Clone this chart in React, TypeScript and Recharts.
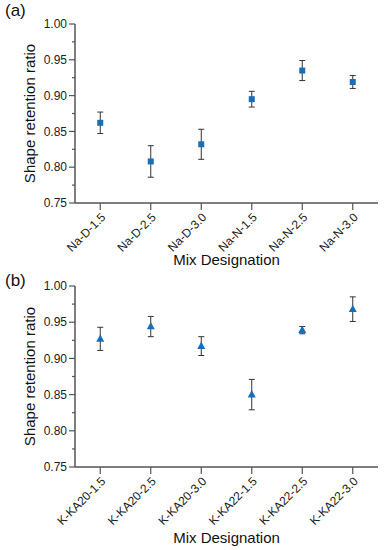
import React from 'react';
import { ComposedChart, Scatter, XAxis, YAxis, ErrorBar } from 'recharts';

const categoriesA = ['Na-D-1.5', 'Na-D-2.5', 'Na-D-3.0', 'Na-N-1.5', 'Na-N-2.5', 'Na-N-3.0'];
const valuesA = [0.862, 0.808, 0.832, 0.895, 0.935, 0.919];
const errorsA = [0.015, 0.022, 0.021, 0.011, 0.014, 0.009];

const categoriesB = ['K-KA20-1.5', 'K-KA20-2.5', 'K-KA20-3.0', 'K-KA22-1.5', 'K-KA22-2.5', 'K-KA22-3.0'];
const valuesB = [0.927, 0.944, 0.917, 0.85, 0.939, 0.968];
const errorsB = [0.016, 0.014, 0.013, 0.021, 0.005, 0.017];

const yTicks = [0.75, 0.775, 0.8, 0.825, 0.85, 0.875, 0.9, 0.925, 0.95, 0.975, 1.0];
const xTicks = [0, 1, 2, 3, 4, 5];

const FONT = '"Liberation Sans", Arial, Helvetica, sans-serif';
const AXIS = '#555';
const BLUE = '#1a6db6';

const dataA = categoriesA.map((c, i) => ({ idx: i, name: c, v: valuesA[i], err: errorsA[i] }));
const dataB = categoriesB.map((c, i) => ({ idx: i, name: c, v: valuesB[i], err: errorsB[i] }));

const YTick = (props: any) => {
  const { x, y, payload } = props;
  const v = payload.value;
  const major = Math.abs(v * 20 - Math.round(v * 20)) < 1e-6;
  return (
    <g>
      <line x1={x - (major ? 6 : 3)} y1={y} x2={x} y2={y} stroke={AXIS} strokeWidth={1.2} />
      {major && (
        <text x={x - 8} y={y} dy="0.35em" textAnchor="end" fontSize={12} fontFamily={FONT} fill="#222">
          {v.toFixed(2)}
        </text>
      )}
    </g>
  );
};

const makeXTick = (cats: string[]) => (props: any) => {
  const { x, y, payload } = props;
  const tx = x + 3;
  const ty = y + 3;
  return (
    <text
      x={tx}
      y={ty}
      dy="0.35em"
      textAnchor="end"
      transform={`rotate(-45, ${tx}, ${ty})`}
      fontSize={12}
      fontFamily={FONT}
      fill="#222"
    >
      {cats[payload.value]}
    </text>
  );
};

const Square = (props: any) => {
  const { cx, cy } = props;
  return <rect x={cx - 3} y={cy - 3} width={6} height={6} fill={BLUE} />;
};

const Triangle = (props: any) => {
  const { cx, cy } = props;
  return <polygon points={`${cx},${cy - 4.5} ${cx + 4},${cy + 2.8} ${cx - 4},${cy + 2.8}`} fill={BLUE} />;
};

const YLabel = (props: any) => {
  const { viewBox } = props;
  const cy = viewBox.y + viewBox.height / 2;
  const x = 35;
  return (
    <text x={x} y={cy} textAnchor="middle" transform={`rotate(-90, ${x}, ${cy})`} fontSize={15} fontFamily={FONT} fill="#111">
      Shape retention ratio
    </text>
  );
};

const makeXLabel = (baseline: number) => (props: any) => {
  const { viewBox } = props;
  const cx = viewBox.x + viewBox.width / 2;
  return (
    <text x={cx} y={baseline} textAnchor="middle" fontSize={15} fontFamily={FONT} fill="#111">
      Mix Designation
    </text>
  );
};

type PanelProps = {
  data: any[];
  cats: string[];
  height: number;
  top: number;
  xHeight: number;
  titleBaseline: number;
  shape: any;
};

const Panel = ({ data, cats, height, top, xHeight, titleBaseline, shape }: PanelProps) => (
  <ComposedChart width={384} height={height} data={data} margin={{ top, right: 6, left: 0, bottom: 0 }}>
    <XAxis
      dataKey="idx"
      type="number"
      domain={[-0.5, 5.5]}
      ticks={xTicks}
      interval={0}
      height={xHeight}
      axisLine={{ stroke: AXIS, strokeWidth: 1.5 }}
      tickLine={{ stroke: AXIS, strokeWidth: 1.2 }}
      tickSize={7}
      tickMargin={2}
      tick={makeXTick(cats)}
      label={{ content: makeXLabel(titleBaseline) }}
    />
    <YAxis
      type="number"
      domain={[0.75, 1.0]}
      ticks={yTicks}
      interval={0}
      width={75}
      axisLine={{ stroke: AXIS, strokeWidth: 1.5 }}
      tickLine={false}
      tickSize={0}
      tickMargin={0}
      tick={YTick}
      label={{ content: YLabel }}
    />
    <Scatter dataKey="v" shape={shape} isAnimationActive={false}>
      <ErrorBar dataKey="err" direction="y" width={3} stroke="#333" strokeWidth={1} />
    </Scatter>
  </ComposedChart>
);

export default function App() {
  return (
    <div style={{ position: 'absolute', left: 0, top: 0, width: 384, height: 550, background: '#fff' }}>
      <div style={{ position: 'absolute', left: 0, top: 0 }}>
        <Panel data={dataA} cats={categoriesA} height={275} top={24} xHeight={72} titleBaseline={265} shape={Square} />
      </div>
      <div style={{ position: 'absolute', left: 0, top: 275 }}>
        <Panel data={dataB} cats={categoriesB} height={275} top={11} xHeight={83} titleBaseline={267.5} shape={Triangle} />
      </div>
      <div style={{ position: 'absolute', left: 5, top: 1, fontSize: 17, fontFamily: FONT, color: '#111', lineHeight: '20px' }}>(a)</div>
      <div style={{ position: 'absolute', left: 5, top: 271, fontSize: 17, fontFamily: FONT, color: '#111', lineHeight: '20px' }}>(b)</div>
    </div>
  );
}
